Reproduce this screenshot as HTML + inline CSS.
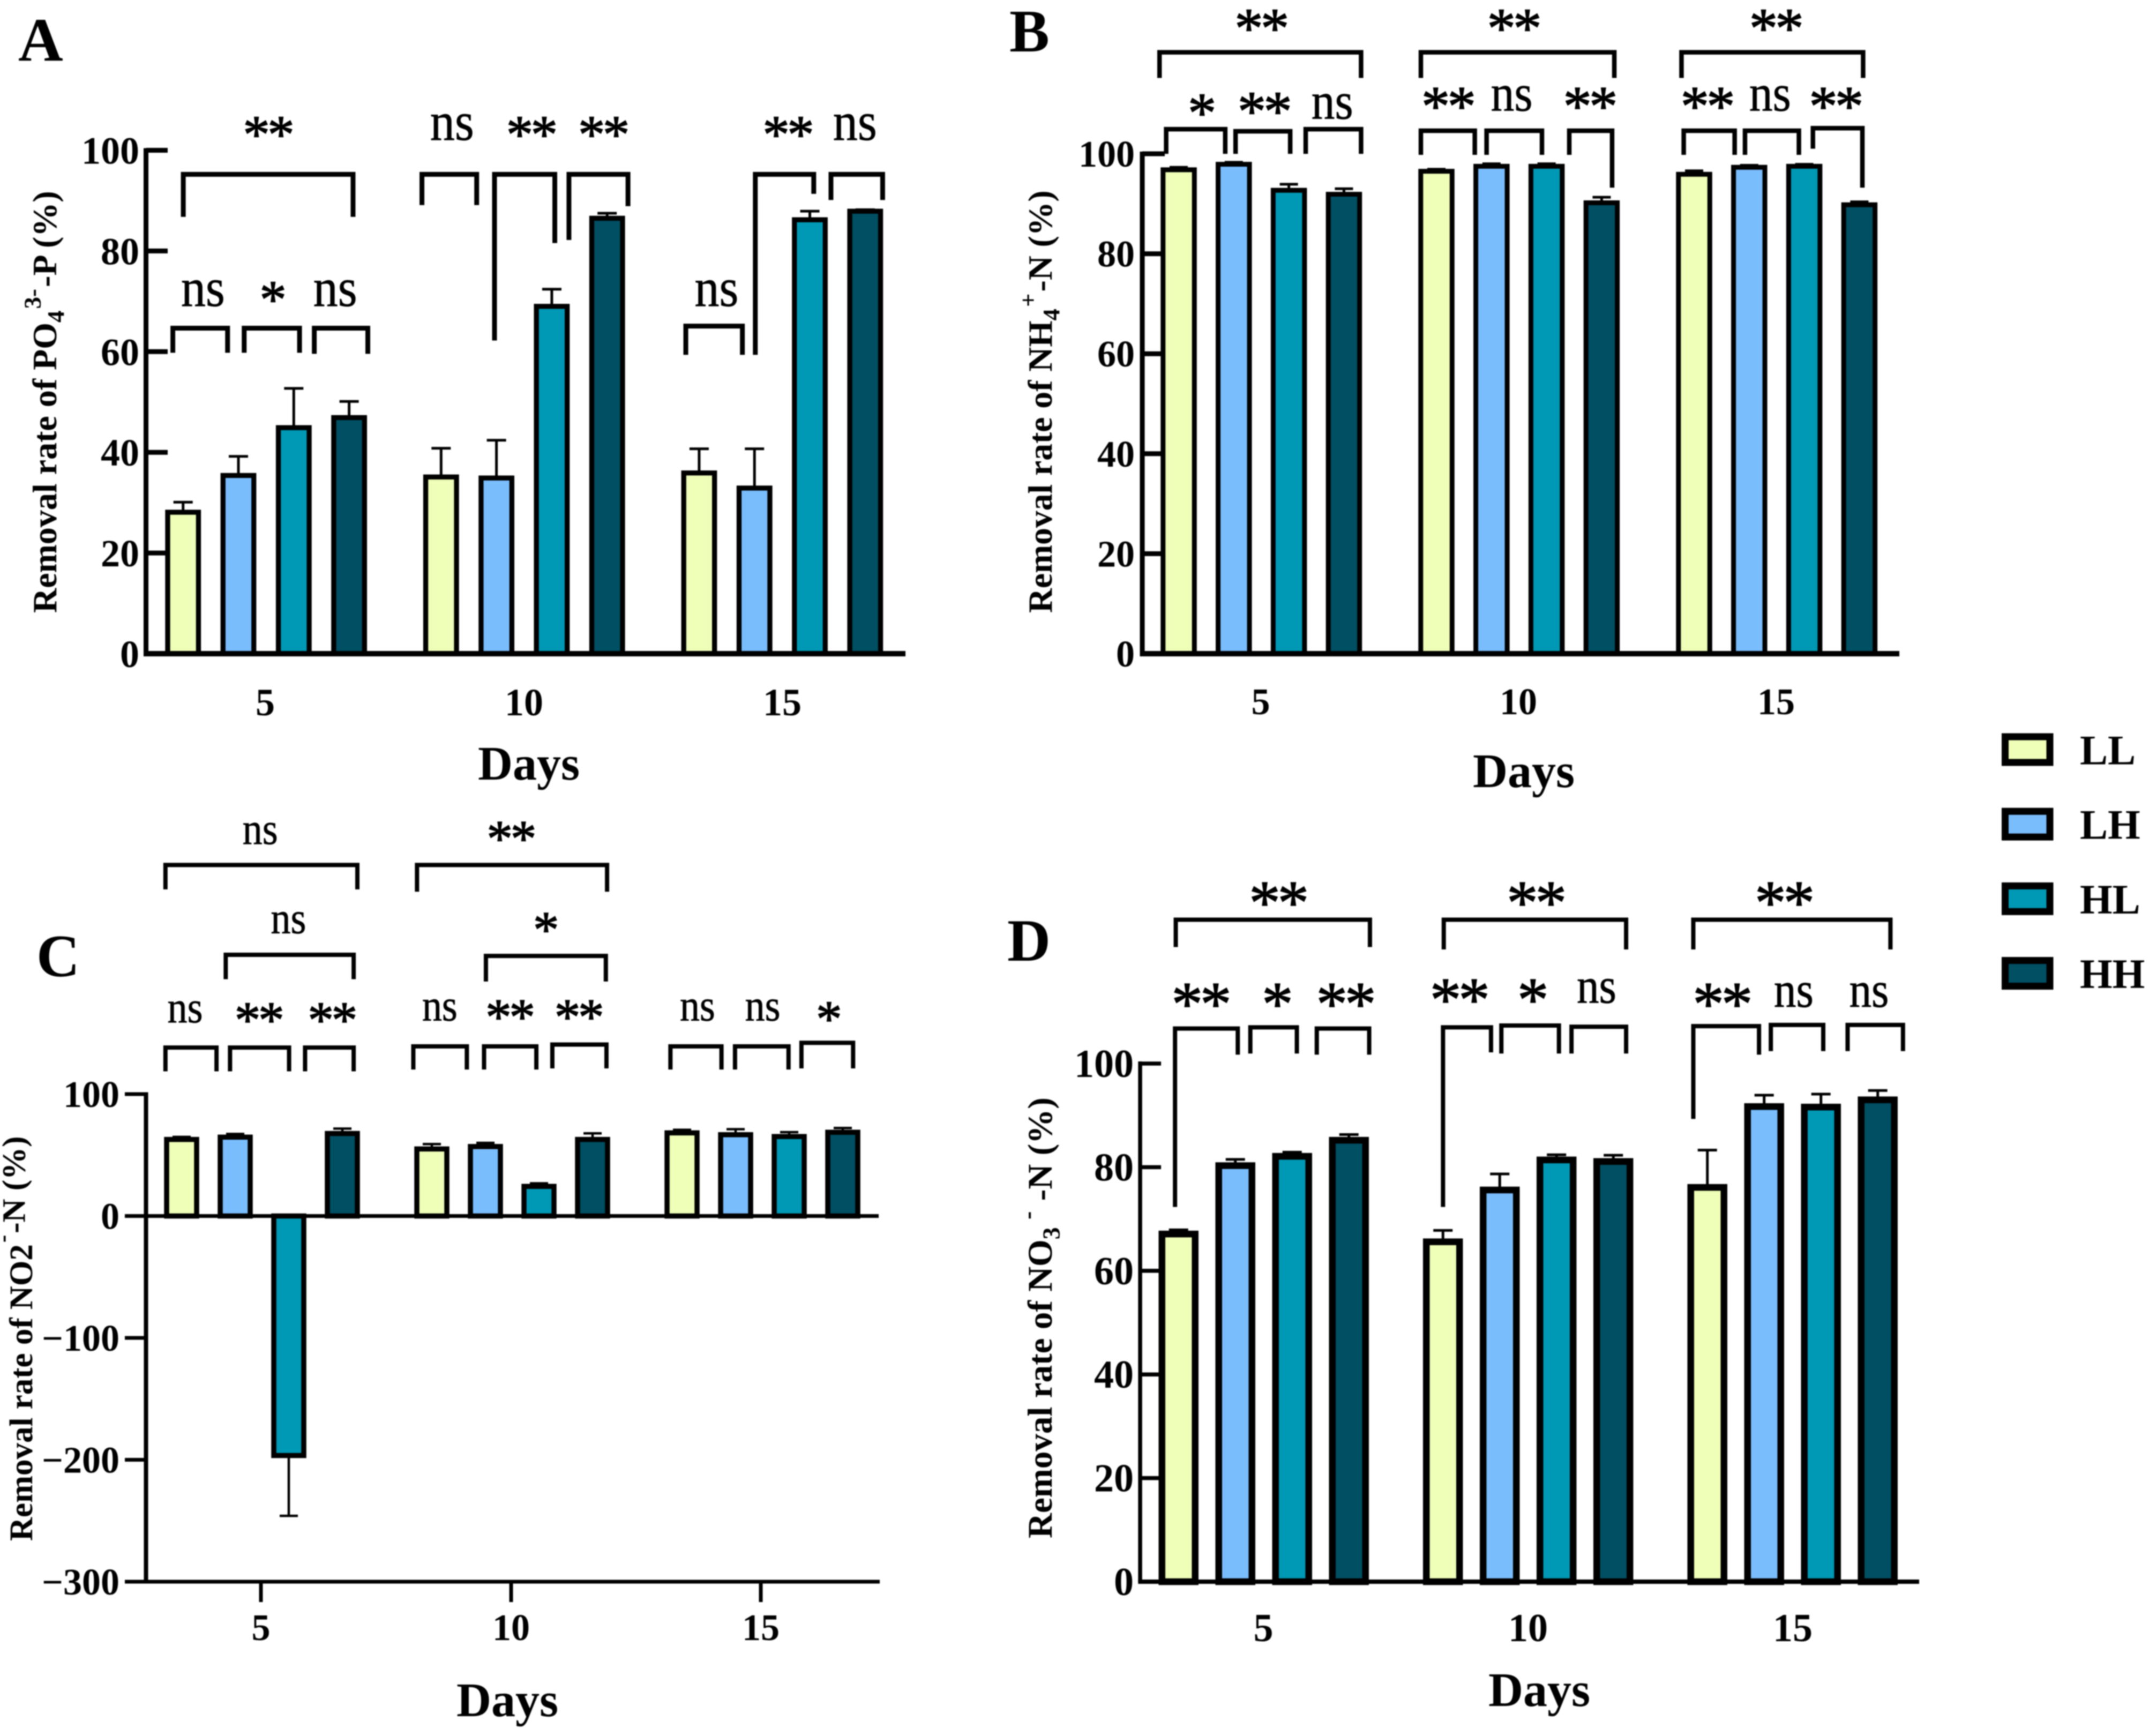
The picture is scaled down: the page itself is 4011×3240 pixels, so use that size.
<!DOCTYPE html>
<html lang="en">
<head>
<meta charset="utf-8">
<title>Removal rates by treatment and day</title>
<style>
html,body{margin:0;padding:0;background:#fff;}
svg{display:block;filter:blur(1px);}
text{font-family:"Liberation Serif",serif;fill:#000;}
</style>
</head>
<body>
<svg id="figure" xmlns="http://www.w3.org/2000/svg" width="4011" height="3240" viewBox="0 0 4011 3240">
<rect width="4011" height="3240" fill="#fff"/>
</svg>
<script>
const days = ['5', '10', '15'];
const seriesNames = ['LL', 'LH', 'HL', 'HH'];
const seriesColors = ['#EFFFB8', '#7ABDFD', '#0099B5', '#004F63'];

const ticksPositive = [0, 20, 40, 60, 80, 100];
const ticksC = [100, 0, -100, -200, -300];

const aDay5 = [28.1, 35.4, 44.9, 46.9];
const aDay10 = [35.1, 34.9, 69.0, 86.5];
const aDay15 = [35.9, 32.9, 86.2, 87.9];
const aErr5 = [2.0, 3.8, 7.8, 3.2];
const aErr10 = [5.7, 7.5, 3.4, 1.0];
const aErr15 = [4.8, 7.8, 1.7, 0.3];

const bDay5 = [96.8, 97.9, 92.7, 91.9];
const bDay10 = [96.5, 97.5, 97.5, 90.2];
const bDay15 = [95.9, 97.3, 97.5, 89.8];
const bErr5 = [0.5, 0.4, 1.2, 1.1];
const bErr10 = [0.4, 0.5, 0.5, 1.1];
const bErr15 = [0.7, 0.4, 0.4, 0.6];

const cDay5 = [62.8, 64.7, -196.5, 67.7];
const cDay10 = [55.0, 57.0, 24.3, 62.8];
const cDay15 = [68.2, 66.7, 65.2, 68.7];
const cErr5 = [2.1, 2.6, 49.5, 4.0];
const cErr10 = [4.0, 3.0, 2.5, 5.0];
const cErr15 = [2.5, 4.5, 3.6, 3.5];

const dDay5 = [67.1, 80.3, 82.1, 85.2];
const dDay10 = [65.6, 75.6, 81.4, 81.1];
const dDay15 = [76.1, 91.7, 91.6, 93.0];
const dErr5 = [0.8, 1.2, 0.8, 1.1];
const dErr10 = [2.2, 3.1, 1.0, 1.2];
const dErr15 = [7.2, 2.2, 2.5, 1.8];

const NS = 'http://www.w3.org/2000/svg';
const root = document.getElementById('figure');

function make(tag, parent, name, attrs) {
  const el = document.createElementNS(NS, tag);
  
  
  for (const k in attrs) el.setAttribute(k, attrs[k]);
  parent.appendChild(el);
  return el;
}
function line(parent, name, x1, y1, x2, y2, w) {
  return make('line', parent, name, {x1: x1, y1: y1, x2: x2, y2: y2, stroke: '#000', 'stroke-width': w});
}
function label(parent, name, str, x, y, size, weight, anchor) {
  const t = make('text', parent, name, {x: x, y: y, 'font-size': size, 'font-weight': weight, 'text-anchor': anchor});
  t.textContent = str;
  return t;
}

function drawPanel(p) {
  const g = make('g', root, 'panel-' + p.id, {});
  const yScale = v => p.y0 - v * p.unit;
  const xScale = (day, s) => p.x0 + day * p.groupStep + s * p.barStep;

  label(g, 'panel-letter-' + p.id, p.letter[0], p.letter[1], p.letter[2], p.letter[3], 'bold', 'start');

  // bars
  p.values.forEach((vals, day) => {
    const dg = make('g', g, 'day-' + days[day] + '-bars', {});
    vals.forEach((v, s) => {
      const cx = xScale(day, s);
      const dir = v < 0 ? -1 : 1;
      const e = p.errors[day][s];
      const tip = yScale(v + dir * e);
      line(dg, 'error-bar-' + seriesNames[s] + '-day-' + days[day], cx, yScale(v), cx, tip, p.errW);
      line(dg, 'error-cap-' + seriesNames[s] + '-day-' + days[day], cx - p.capW / 2, tip, cx + p.capW / 2, tip, p.errW);
      const top = Math.min(yScale(v), p.y0);
      const h = Math.abs(yScale(v) - p.y0);
      make('rect', dg, 'bar-' + seriesNames[s] + '-day-' + days[day], {
        x: cx - p.barW / 2, y: top, width: p.barW, height: h,
        fill: seriesColors[s], stroke: '#000', 'stroke-width': p.barStroke
      });
    });
  });

  // axes
  p.drawAxes(g, yScale, xScale);

  // y title
  const t = make('text', g, 'y-axis-title-' + p.id, {
    transform: 'translate(' + p.title.x + ',' + p.title.y + ') rotate(-90)',
    'font-size': p.title.size, 'font-weight': 'bold'
  });
  p.title.parts.forEach(part => {
    const ts = document.createElementNS(NS, 'tspan');
    ts.textContent = part[0];
    const kind = part[1];
    if (kind === 'sub') { ts.setAttribute('dy', p.title.size * 0.22); ts.setAttribute('font-size', p.title.size * 0.7); }
    if (kind === 'sup') { ts.setAttribute('dy', -p.title.size * 0.68); ts.setAttribute('font-size', p.title.size * 0.7); ts.setAttribute('dx', p.title.size * 0.05); }
    if (kind === 'up') { ts.setAttribute('dy', p.title.size * 0.46); ts.setAttribute('dx', p.title.size * 0.05); }
    t.appendChild(ts);
  });

  // x title
  label(g, 'x-axis-title-' + p.id, 'Days', p.daysLabel[0], p.daysLabel[1], 90, 'bold', 'middle');

  // significance brackets
  const br = make('g', g, 'significance-brackets-' + p.id, {});
  const px = zx => p.crop.ox + zx * p.crop.fx;
  const py = zy => p.crop.oy + zy * p.crop.fy;
  p.brackets.forEach(b => {
    const x1 = px(b[0]), x2 = px(b[1]), yt = py(b[2]), yl = py(b[3]), yr = py(b[4]);
    make('path', br, 'bracket-' + b[5], {
      d: 'M' + x1 + ' ' + yl + 'V' + yt + 'H' + x2 + 'V' + yr,
      fill: 'none', stroke: '#000', 'stroke-width': p.bracketW, 'stroke-linejoin': 'miter'
    });
    const lx = px(b[6]), ly = py(b[7]);
    if (b[5] === 'ns') {
      const n = make('text', br, 'significance-label-ns', {
        x: lx, y: ly + p.nsSize * 0.23, 'font-size': p.nsSize, 'text-anchor': 'middle',
        textLength: p.nsWidth, lengthAdjust: 'spacingAndGlyphs',
        stroke: '#000', 'stroke-width': 0.8
      });
      n.textContent = 'ns';
    } else {
      const fs = 1.18 * p.starW;
      const s = make('text', br, 'significance-label-stars', {
        x: lx, y: ly + fs * 0.47, 'font-size': fs, 'text-anchor': 'middle',
        'letter-spacing': -0.05 * p.starW,
        stroke: '#000', 'stroke-width': 1.6
      });
      s.textContent = b[5];
    }
  });
}

function positiveAxes(cfg) {
  return function (g, yScale, xScale) {
    const ax = make('g', g, 'axes-' + cfg.id, {});
    line(ax, 'y-axis-line', cfg.axisX, yScale(100) - 4, cfg.axisX, cfg.y0, cfg.axisW);
    ticksPositive.forEach(v => {
      if (v !== 0) line(ax, 'y-tick-' + v, cfg.axisX, yScale(v), cfg.tickEnd, yScale(v), cfg.tickW);
      label(ax, 'y-tick-label-' + v, String(v), cfg.labelX, yScale(v) + cfg.labelDy, cfg.labelSize, 'bold', 'end');
    });
    line(ax, 'x-axis-line', cfg.axisX - cfg.axisW / 2, cfg.y0, cfg.axisEnd, cfg.y0, cfg.baseW);
    days.forEach((d, i) => {
      label(ax, 'x-tick-label-' + d, d, cfg.xLabels[i], cfg.xLabelY, cfg.labelSize, 'bold', 'middle');
    });
  };
}

// Panel A
drawPanel({
  id: 'a', letter: ['A', 34, 113, 116],
  x0: 341.7, barStep: 103.3, groupStep: 481.6, barW: 57.5, barStroke: 9.3,
  y0: 1220, unit: 9.395, errW: 5, capW: 36,
  values: [aDay5, aDay10, aDay15], errors: [aErr5, aErr10, aErr15],
  drawAxes: positiveAxes({id: 'a', axisX: 272.5, axisW: 9, tickEnd: 313, tickW: 9, y0: 1220, baseW: 10, axisEnd: 1690,
    labelX: 260, labelDy: 25, labelSize: 72, xLabels: [495, 978, 1460], xLabelY: 1335}),
  title: {x: 105, y: 1144, size: 64, parts: [['Removal rate of PO'], ['4', 'sub'], ['3-', 'sup'], ['-P (%)', 'up']]},
  daysLabel: [987, 1455],
  crop: {ox: 0, oy: 0, fx: 1.148, fy: 0.957},
  bracketW: 9, nsSize: 102, nsWidth: 82, starW: 85,
  brackets: [
    [298, 574, 340, 423, 423, '**', 435, 248],
    [281, 370, 640, 688, 688, 'ns', 330, 572],
    [397, 487, 640, 688, 688, '*', 442, 570],
    [511, 598, 640, 690, 690, 'ns', 545, 572],
    [686, 775, 340, 400, 400, 'ns', 735, 248],
    [804, 902, 340, 664, 474, '**', 863, 248],
    [925, 1021, 340, 468, 402, '**', 980, 248],
    [1115, 1207, 636, 692, 692, 'ns', 1165, 572],
    [1228, 1323, 340, 692, 378, '**', 1280, 248],
    [1351, 1435, 340, 390, 390, 'ns', 1390, 248]
  ]
});

// Panel B
drawPanel({
  id: 'b', letter: ['B', 1884, 96, 112],
  x0: 2200, barStep: 102.8, groupStep: 481, barW: 58.5, barStroke: 9,
  y0: 1220, unit: 9.33, errW: 5, capW: 34,
  values: [bDay5, bDay10, bDay15], errors: [bErr5, bErr10, bErr15],
  drawAxes: positiveAxes({id: 'b', axisX: 2132, axisW: 9, tickEnd: 2174, tickW: 9, y0: 1220, baseW: 10, axisEnd: 3545,
    labelX: 2118, labelDy: 24, labelSize: 70, xLabels: [2353, 2834, 3315], xLabelY: 1333}),
  title: {x: 1963, y: 1144, size: 63.6, parts: [['Removal rate of NH'], ['4', 'sub'], ['+', 'sup'], ['-N (%)', 'up']]},
  daysLabel: [2844, 1469],
  crop: {ox: 1850, oy: 0, fx: 1.378, fy: 0.957},
  bracketW: 8.5, nsSize: 98, nsWidth: 78, starW: 90,
  brackets: [
    [228, 501, 102, 152, 152, '**', 365, 40],
    [582, 844, 102, 152, 152, '**', 707, 40],
    [935, 1181, 102, 152, 152, '**', 1062, 40],
    [237, 317, 252, 300, 300, '*', 284, 205],
    [331, 405, 256, 300, 300, '**', 369, 202],
    [426, 501, 252, 300, 300, 'ns', 462, 208],
    [582, 655, 255, 302, 302, '**', 618, 192],
    [671, 746, 255, 302, 302, 'ns', 705, 192],
    [783, 841, 255, 302, 366, '**', 810, 192],
    [938, 1007, 255, 302, 302, '**', 969, 192],
    [1021, 1094, 255, 302, 302, 'ns', 1055, 192],
    [1113, 1180, 250, 290, 366, '**', 1143, 192]
  ]
});

// Panel C
drawPanel({
  id: 'c', letter: ['C', 68, 1822, 112],
  x0: 339, barStep: 100, groupStep: 467, barW: 56, barStroke: 9.5,
  y0: 2269.5, unit: 2.275, errW: 4.5, capW: 34,
  values: [cDay5, cDay10, cDay15], errors: [cErr5, cErr10, cErr15],
  drawAxes: function (g, yScale) {
    const ax = make('g', g, 'axes-c', {});
    line(ax, 'y-axis-line', 272.5, yScale(100) - 3.5, 272.5, yScale(-300), 8);
    ticksC.forEach(v => {
      line(ax, 'y-tick-' + v, 233, yScale(v), 272, yScale(v), 7);
      label(ax, 'y-tick-label-' + v, v < 0 ? '\u2212' + Math.abs(v) : String(v), 223, yScale(v) + 24, 70, 'bold', 'end');
    });
    line(ax, 'zero-line', 272, yScale(0), 1640, yScale(0), 7);
    line(ax, 'x-axis-line', 233, yScale(-300), 1642, yScale(-300), 7);
    [487, 954, 1420].forEach((x, i) => {
      line(ax, 'x-tick-' + days[i], x, yScale(-300), x, 2990, 7);
      label(ax, 'x-tick-label-' + days[i], days[i], x, 3061, 70, 'bold', 'middle');
    });
  },
  title: {x: 60, y: 2876, size: 61, parts: [['Removal rate of NO2'], ['-', 'sup'], ['-N (%)', 'up']]},
  daysLabel: [947, 3203],
  crop: {ox: 0, oy: 1500, fx: 1.148, fy: 1.11},
  bracketW: 8, nsSize: 84, nsWidth: 66, starW: 82,
  brackets: [
    [269, 581, 103, 144, 144, 'ns', 423, 50],
    [678, 987, 103, 148, 148, '**', 830, 47],
    [367, 575, 254, 295, 295, 'ns', 469, 200],
    [790, 985, 256, 299, 299, '*', 886, 200],
    [269, 352, 410, 450, 450, 'ns', 301, 350],
    [374, 470, 410, 450, 450, '**', 420, 352],
    [496, 575, 410, 450, 450, '**', 539, 352],
    [672, 759, 408, 447, 447, 'ns', 715, 347],
    [787, 872, 408, 447, 447, '**', 828, 347],
    [898, 986, 405, 445, 445, '**', 940, 347],
    [1090, 1173, 408, 447, 447, 'ns', 1134, 347],
    [1195, 1282, 408, 447, 447, 'ns', 1240, 347],
    [1303, 1387, 402, 445, 445, '*', 1346, 350]
  ]
});

// Panel D
drawPanel({
  id: 'd', letter: ['D', 1880, 1793, 112],
  x0: 2199.7, barStep: 106, groupStep: 493.5, barW: 62, barStroke: 12.5,
  y0: 2952, unit: 9.67, errW: 5, capW: 36,
  values: [dDay5, dDay10, dDay15], errors: [dErr5, dErr10, dErr15],
  drawAxes: positiveAxes({id: 'd', axisX: 2128, axisW: 7.5, tickEnd: 2167, tickW: 7.5, y0: 2952, baseW: 8, axisEnd: 3582,
    labelX: 2116, labelDy: 25, labelSize: 74, xLabels: [2358, 2852, 3346], xLabelY: 3063}),
  title: {x: 1963, y: 2871, size: 65, parts: [['Removal rate of NO'], ['3', 'sub'], ['\u00a0-', 'sup'], ['\u00a0-N (%)', 'up']]},
  daysLabel: [2873, 3184],
  crop: {ox: 1850, oy: 1500, fx: 1.378, fy: 1.11},
  bracketW: 8, nsSize: 94, nsWidth: 74, starW: 99,
  brackets: [
    [250, 513, 195, 241, 241, '**', 388, 152],
    [613, 860, 195, 245, 245, '**', 737, 152],
    [951, 1218, 195, 245, 245, '**', 1073, 152],
    [249, 334, 378, 678, 422, '**', 283, 322],
    [351, 414, 376, 420, 420, '*', 386, 322],
    [441, 512, 378, 422, 422, '**', 479, 322],
    [612, 677, 376, 678, 418, '**', 633, 315],
    [691, 769, 373, 420, 420, '*', 732, 315],
    [786, 860, 375, 420, 420, 'ns', 820, 315],
    [951, 1040, 374, 530, 422, '**', 989, 322],
    [1056, 1127, 372, 416, 416, 'ns', 1087, 322],
    [1160, 1235, 372, 416, 416, 'ns', 1189, 322]
  ]
});

// Legend
const legend = make('g', root, 'legend', {});
seriesNames.forEach((nm, i) => {
  const cy = 1399 + i * 139.2;
  const entry = make('g', legend, 'legend-entry-' + nm, {});
  make('rect', entry, 'legend-swatch-' + nm, {
    x: 3742.5, y: cy - 24, width: 83.5, height: 48,
    fill: seriesColors[i], stroke: '#000', 'stroke-width': 13
  });
  label(entry, 'legend-label-' + nm, nm, 3882, cy + 27.5, 78, 'bold', 'start');
});
</script>
</body>
</html>
